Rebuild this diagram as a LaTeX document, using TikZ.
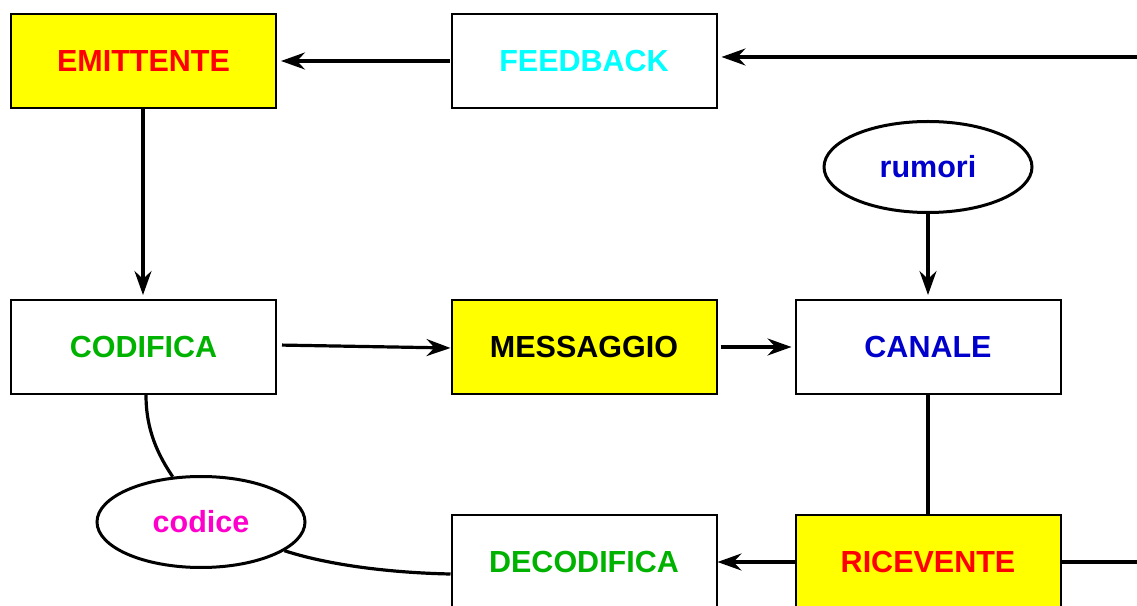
\documentclass[tikz,border=0pt]{standalone}
\usepackage{fontspec}
\setmainfont{Liberation Sans}
\usetikzlibrary{arrows.meta,shapes.geometric}
\definecolor{cred}{RGB}{255,0,0}
\definecolor{ccyan}{RGB}{0,255,255}
\definecolor{cgreen}{RGB}{0,178,0}
\definecolor{cblue}{RGB}{0,0,204}
\definecolor{cmag}{RGB}{255,0,204}
\definecolor{cyel}{RGB}{255,255,0}
\tikzset{
  box/.style={draw=black, line width=2pt, minimum width=265pt, minimum height=94pt,
    inner sep=0pt, font=\fontsize{30.5}{36}\selectfont\bfseries},
  hl/.style={fill=cyel},
  oval/.style={ellipse, draw=black, line width=3pt, minimum width=208pt, minimum height=91pt,
    inner sep=0pt, fill=white, font=\fontsize{30.5}{36}\selectfont\bfseries},
  conn/.style={line width=3.2pt, draw=black},
  arr/.style={conn, -{Stealth[length=24pt,width=17pt,inset=8pt]}}
}
\begin{document}
\begin{tikzpicture}[x=1pt,y=1pt]
\useasboundingbox (0,0) rectangle (1137,605);
% blocks
\node[box,hl,text=cred] (emit) at (143.5,544) {EMITTENTE};
\node[box,text=ccyan] (feed) at (584,544) {FEEDBACK};
\node[box,text=cgreen] (cod) at (143.5,258) {CODIFICA};
\node[box,hl,text=black] (msg) at (584,258) {MESSAGGIO};
\node[box,text=cblue] (can) at (928,258) {CANALE};
\node[box,text=cgreen] (dec) at (584,43) {DECODIFICA};
\node[box,hl,text=cred] (ric) at (928,43) {RICEVENTE};
\node[oval,text=cblue] (rum) at (928,438) {rumori};
\node[oval,text=cmag] (codice) at (201,83) {codice};
% loose ends at the right margin
\coordinate (fbin) at (1137,548);
\coordinate (ricout) at (1137,43);
% connectors
\draw[arr, shorten >=4pt] (fbin) -- (feed.east |- fbin);
\draw[arr, shorten <=1pt, shorten >=4pt] (feed.west) -- (emit.east);
\draw[arr, shorten >=4pt] ([xshift=-0.5pt]emit.south) -- ([xshift=-0.5pt]cod.north);
\draw[arr, shorten <=5pt] ([yshift=2pt]cod.east) -- ([yshift=-1pt]msg.west);
\draw[arr, shorten <=3pt, shorten >=3pt] (msg.east) -- (can.west);
\draw[arr, shorten >=4pt] (rum.south) -- (can.north);
\draw[conn] (can.south) -- (ric.north);
\draw[arr] (ric.west) -- (dec.east);
\draw[conn] (ric.east) -- (ricout);
\draw[conn] ([xshift=2.5pt]cod.south) .. controls (146,175) and (158,150) .. (codice.122);
\draw[conn] (codice.-19) .. controls (335,38) and (400,32) .. ([yshift=-12pt]dec.west);
\end{tikzpicture}
\end{document}
